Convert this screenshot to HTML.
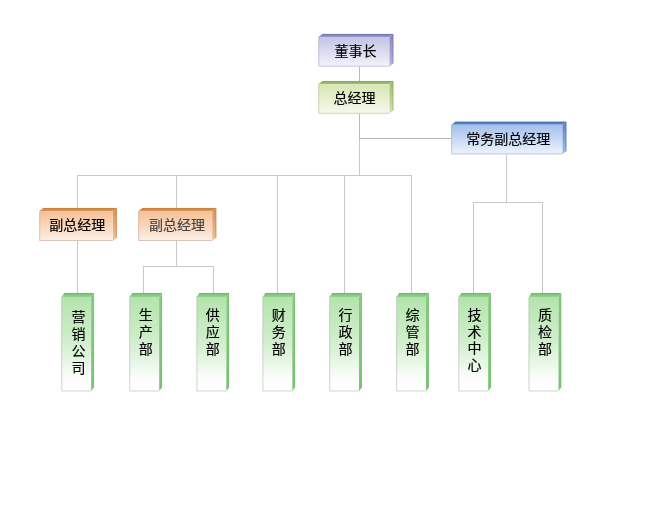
<!DOCTYPE html>
<html lang="zh-CN"><head><meta charset="utf-8"><title>组织结构图</title>
<style>
html,body{margin:0;padding:0;background:#fff;}
body{width:659px;height:508px;overflow:hidden;font-family:"Liberation Sans", "Noto Sans CJK SC", sans-serif;}
svg{display:block;will-change:transform;}
</style></head><body>
<svg width="659" height="508" viewBox="0 0 659 508" font-family='"Liberation Sans", "Noto Sans CJK SC", sans-serif'><defs><linearGradient id="g_pur" x1="0" y1="0" x2="0" y2="1"><stop offset="0" stop-color="#c3c3e6"/><stop offset="1" stop-color="#f3f3fb"/></linearGradient><linearGradient id="s_pur" x1="0" y1="0" x2="0" y2="1"><stop offset="0" stop-color="#8686bc"/><stop offset="1" stop-color="#b6b6da"/></linearGradient><linearGradient id="t_pur" x1="0" y1="0" x2="0" y2="1"><stop offset="0" stop-color="#7676ae"/><stop offset="1" stop-color="#9a9acb"/></linearGradient><linearGradient id="g_yel" x1="0" y1="0" x2="0" y2="1"><stop offset="0" stop-color="#d7e6b1"/><stop offset="1" stop-color="#f6f9ee"/></linearGradient><linearGradient id="s_yel" x1="0" y1="0" x2="0" y2="1"><stop offset="0" stop-color="#9db86e"/><stop offset="1" stop-color="#d2e0b6"/></linearGradient><linearGradient id="t_yel" x1="0" y1="0" x2="0" y2="1"><stop offset="0" stop-color="#88aa5c"/><stop offset="1" stop-color="#a5be76"/></linearGradient><linearGradient id="g_blu" x1="0" y1="0" x2="0" y2="1"><stop offset="0" stop-color="#a4c0eb"/><stop offset="1" stop-color="#edf3fd"/></linearGradient><linearGradient id="s_blu" x1="0" y1="0" x2="0" y2="1"><stop offset="0" stop-color="#5d82c6"/><stop offset="1" stop-color="#a4bce4"/></linearGradient><linearGradient id="t_blu" x1="0" y1="0" x2="0" y2="1"><stop offset="0" stop-color="#4c72b8"/><stop offset="1" stop-color="#6088ce"/></linearGradient><linearGradient id="g_org" x1="0" y1="0" x2="0" y2="1"><stop offset="0" stop-color="#f4bf93"/><stop offset="1" stop-color="#fdefe6"/></linearGradient><linearGradient id="s_org" x1="0" y1="0" x2="0" y2="1"><stop offset="0" stop-color="#d49252"/><stop offset="1" stop-color="#ecc09a"/></linearGradient><linearGradient id="t_org" x1="0" y1="0" x2="0" y2="1"><stop offset="0" stop-color="#c88040"/><stop offset="1" stop-color="#dd9a5a"/></linearGradient><linearGradient id="g_grn" x1="0" y1="0" x2="0" y2="1"><stop offset="0" stop-color="#b3e4ac"/><stop offset="0.5" stop-color="#d3efcf"/><stop offset="0.86" stop-color="#fbfdfb"/><stop offset="1" stop-color="#ffffff"/></linearGradient><linearGradient id="s_grn" x1="0" y1="0" x2="0" y2="1"><stop offset="0" stop-color="#84cb7e"/><stop offset="1" stop-color="#78c472"/></linearGradient><linearGradient id="t_grn" x1="0" y1="0" x2="0" y2="1"><stop offset="0" stop-color="#74b96e"/><stop offset="1" stop-color="#97d490"/></linearGradient></defs>
<line x1="359.5" y1="66.5" x2="359.5" y2="84" stroke="#b8b8b8" stroke-width="1"/>
<line x1="359.5" y1="139" x2="359.5" y2="176" stroke="#c8c8c8" stroke-width="1"/>
<line x1="359.5" y1="113.5" x2="359.5" y2="139" stroke="#b8b8b8" stroke-width="1"/>
<line x1="359" y1="138.5" x2="451.3" y2="138.5" stroke="#b8b8b8" stroke-width="1"/>
<line x1="77" y1="175.5" x2="412" y2="175.5" stroke="#c8c8c8" stroke-width="1"/>
<line x1="77.5" y1="175" x2="77.5" y2="208.2" stroke="#c8c8c8" stroke-width="1"/>
<line x1="176.5" y1="175" x2="176.5" y2="208.2" stroke="#c8c8c8" stroke-width="1"/>
<line x1="277.5" y1="175" x2="277.5" y2="293.2" stroke="#c8c8c8" stroke-width="1"/>
<line x1="344.5" y1="175" x2="344.5" y2="293.2" stroke="#c8c8c8" stroke-width="1"/>
<line x1="411.5" y1="175" x2="411.5" y2="293.2" stroke="#c8c8c8" stroke-width="1"/>
<line x1="77.5" y1="240.5" x2="77.5" y2="293.2" stroke="#c8c8c8" stroke-width="1"/>
<line x1="176.5" y1="240.5" x2="176.5" y2="267" stroke="#c8c8c8" stroke-width="1"/>
<line x1="143" y1="266.5" x2="214" y2="266.5" stroke="#c8c8c8" stroke-width="1"/>
<line x1="143.5" y1="266" x2="143.5" y2="293.2" stroke="#c8c8c8" stroke-width="1"/>
<line x1="213.5" y1="266" x2="213.5" y2="293.2" stroke="#c8c8c8" stroke-width="1"/>
<line x1="506.5" y1="154.3" x2="506.5" y2="203" stroke="#c8c8c8" stroke-width="1"/>
<line x1="473" y1="202.5" x2="543" y2="202.5" stroke="#c8c8c8" stroke-width="1"/>
<line x1="473.5" y1="202" x2="473.5" y2="293.2" stroke="#c8c8c8" stroke-width="1"/>
<line x1="542.5" y1="202" x2="542.5" y2="293.2" stroke="#c8c8c8" stroke-width="1"/>
<polygon points="318.4,37.0 322.4,34.0 393.29999999999995,34.0 389.29999999999995,37.0" fill="url(#t_pur)"/>
<polygon points="389.29999999999995,37.0 393.29999999999995,34.0 393.29999999999995,63.5 389.29999999999995,66.5" fill="url(#s_pur)"/>
<polyline points="322.4,34.3 392.99999999999994,34.3 392.99999999999994,63.5" fill="none" stroke="#7676ae" stroke-width="0.6"/>
<rect x="318.4" y="37.0" width="70.9" height="29.5" fill="url(#g_pur)"/>
<polyline points="318.7,37.0 318.7,66.2 389.29999999999995,66.2" fill="none" stroke="#b8b8c8" stroke-width="0.7"/>
<text x="355.5" y="56" text-anchor="middle" font-size="14" fill="#000" stroke="#000" stroke-width="0.15">董事长</text>
<polygon points="318.4,84.1 322.4,81.1 393.29999999999995,81.1 389.29999999999995,84.1" fill="url(#t_yel)"/>
<polygon points="389.29999999999995,84.1 393.29999999999995,81.1 393.29999999999995,110.6 389.29999999999995,113.6" fill="url(#s_yel)"/>
<polyline points="322.4,81.39999999999999 392.99999999999994,81.39999999999999 392.99999999999994,110.6" fill="none" stroke="#88aa5c" stroke-width="0.6"/>
<rect x="318.4" y="84.1" width="70.9" height="29.5" fill="url(#g_yel)"/>
<polyline points="318.7,84.1 318.7,113.3 389.29999999999995,113.3" fill="none" stroke="#bcc4b0" stroke-width="0.7"/>
<text x="354.4" y="103" text-anchor="middle" font-size="14" fill="#000" stroke="#000" stroke-width="0.15">总经理</text>
<polygon points="451.3,124.8 455.3,121.8 566.3,121.8 562.3,124.8" fill="url(#t_blu)"/>
<polygon points="562.3,124.8 566.3,121.8 566.3,151.2 562.3,154.2" fill="url(#s_blu)"/>
<polyline points="455.3,122.1 566.0,122.1 566.0,151.2" fill="none" stroke="#4c72b8" stroke-width="0.6"/>
<rect x="451.3" y="124.8" width="111.0" height="29.4" fill="url(#g_blu)"/>
<polyline points="451.6,124.8 451.6,153.89999999999998 562.3,153.89999999999998" fill="none" stroke="#a8b4c8" stroke-width="0.7"/>
<text x="508.3" y="144.1" text-anchor="middle" font-size="14" fill="#000" stroke="#000" stroke-width="0.15">常务副总经理</text>
<polygon points="39.4,211.1 43.4,208.1 116.80000000000001,208.1 112.80000000000001,211.1" fill="url(#t_org)"/>
<polygon points="112.80000000000001,211.1 116.80000000000001,208.1 116.80000000000001,237.79999999999998 112.80000000000001,240.79999999999998" fill="url(#s_org)"/>
<polyline points="43.4,208.4 116.50000000000001,208.4 116.50000000000001,237.79999999999998" fill="none" stroke="#c88040" stroke-width="0.6"/>
<rect x="39.4" y="211.1" width="73.4" height="29.7" fill="url(#g_org)"/>
<polyline points="39.699999999999996,211.1 39.699999999999996,240.49999999999997 112.80000000000001,240.49999999999997" fill="none" stroke="#d0b0a0" stroke-width="0.7"/>
<text x="77.2" y="230" text-anchor="middle" font-size="14" fill="#000" stroke="#000" stroke-width="0.15">副总经理</text>
<polygon points="138.4,211.1 142.4,208.1 216.2,208.1 212.2,211.1" fill="url(#t_org)"/>
<polygon points="212.2,211.1 216.2,208.1 216.2,237.79999999999998 212.2,240.79999999999998" fill="url(#s_org)"/>
<polyline points="142.4,208.4 215.89999999999998,208.4 215.89999999999998,237.79999999999998" fill="none" stroke="#c88040" stroke-width="0.6"/>
<rect x="138.4" y="211.1" width="73.8" height="29.7" fill="url(#g_org)"/>
<polyline points="138.70000000000002,211.1 138.70000000000002,240.49999999999997 212.2,240.49999999999997" fill="none" stroke="#d0b0a0" stroke-width="0.7"/>
<text x="177.0" y="230" text-anchor="middle" font-size="14" fill="#444" stroke="#444" stroke-width="0.15">副总经理</text>
<polygon points="61.5,297.0 64.3,293.1 93.89999999999999,293.1 91.1,297.0" fill="url(#t_grn)"/>
<polygon points="91.1,297.0 93.89999999999999,293.1 93.89999999999999,387.40000000000003 91.1,391.3" fill="url(#s_grn)"/>
<polyline points="64.3,293.40000000000003 93.6,293.40000000000003 93.6,387.40000000000003" fill="none" stroke="#74b96e" stroke-width="0.6"/>
<rect x="61.5" y="297.0" width="29.6" height="94.3" fill="url(#g_grn)"/>
<polyline points="61.8,297.0 61.8,391.0 91.1,391.0" fill="none" stroke="#bcc2bb" stroke-width="0.7"/>
<text x="78.5 78.5 78.5 78.5" y="322.3 339.1 355.9 372.7" text-anchor="middle" font-size="14" fill="#000" stroke="#000" stroke-width="0.15">营销公司</text>
<polygon points="129.5,297.0 132.3,293.1 161.9,293.1 159.1,297.0" fill="url(#t_grn)"/>
<polygon points="159.1,297.0 161.9,293.1 161.9,387.40000000000003 159.1,391.3" fill="url(#s_grn)"/>
<polyline points="132.3,293.40000000000003 161.6,293.40000000000003 161.6,387.40000000000003" fill="none" stroke="#74b96e" stroke-width="0.6"/>
<rect x="129.5" y="297.0" width="29.6" height="94.3" fill="url(#g_grn)"/>
<polyline points="129.8,297.0 129.8,391.0 159.1,391.0" fill="none" stroke="#bcc2bb" stroke-width="0.7"/>
<text x="145.7 145.7 145.7" y="320 337 354" text-anchor="middle" font-size="14" fill="#000" stroke="#000" stroke-width="0.15">生产部</text>
<polygon points="196.6,297.0 199.4,293.1 229.0,293.1 226.2,297.0" fill="url(#t_grn)"/>
<polygon points="226.2,297.0 229.0,293.1 229.0,387.40000000000003 226.2,391.3" fill="url(#s_grn)"/>
<polyline points="199.4,293.40000000000003 228.7,293.40000000000003 228.7,387.40000000000003" fill="none" stroke="#74b96e" stroke-width="0.6"/>
<rect x="196.6" y="297.0" width="29.6" height="94.3" fill="url(#g_grn)"/>
<polyline points="196.9,297.0 196.9,391.0 226.2,391.0" fill="none" stroke="#bcc2bb" stroke-width="0.7"/>
<text x="212.8 212.8 212.8" y="320 337 354" text-anchor="middle" font-size="14" fill="#000" stroke="#000" stroke-width="0.15">供应部</text>
<polygon points="262.6,297.0 265.40000000000003,293.1 295.00000000000006,293.1 292.20000000000005,297.0" fill="url(#t_grn)"/>
<polygon points="292.20000000000005,297.0 295.00000000000006,293.1 295.00000000000006,387.40000000000003 292.20000000000005,391.3" fill="url(#s_grn)"/>
<polyline points="265.40000000000003,293.40000000000003 294.70000000000005,293.40000000000003 294.70000000000005,387.40000000000003" fill="none" stroke="#74b96e" stroke-width="0.6"/>
<rect x="262.6" y="297.0" width="29.6" height="94.3" fill="url(#g_grn)"/>
<polyline points="262.90000000000003,297.0 262.90000000000003,391.0 292.20000000000005,391.0" fill="none" stroke="#bcc2bb" stroke-width="0.7"/>
<text x="278.8 278.8 278.8" y="320 337 354" text-anchor="middle" font-size="14" fill="#000" stroke="#000" stroke-width="0.15">财务部</text>
<polygon points="329.4,297.0 332.2,293.1 361.8,293.1 359.0,297.0" fill="url(#t_grn)"/>
<polygon points="359.0,297.0 361.8,293.1 361.8,387.40000000000003 359.0,391.3" fill="url(#s_grn)"/>
<polyline points="332.2,293.40000000000003 361.5,293.40000000000003 361.5,387.40000000000003" fill="none" stroke="#74b96e" stroke-width="0.6"/>
<rect x="329.4" y="297.0" width="29.6" height="94.3" fill="url(#g_grn)"/>
<polyline points="329.7,297.0 329.7,391.0 359.0,391.0" fill="none" stroke="#bcc2bb" stroke-width="0.7"/>
<text x="345.6 345.6 345.6" y="320 337 354" text-anchor="middle" font-size="14" fill="#000" stroke="#000" stroke-width="0.15">行政部</text>
<polygon points="396.4,297.0 399.2,293.1 428.8,293.1 426.0,297.0" fill="url(#t_grn)"/>
<polygon points="426.0,297.0 428.8,293.1 428.8,387.40000000000003 426.0,391.3" fill="url(#s_grn)"/>
<polyline points="399.2,293.40000000000003 428.5,293.40000000000003 428.5,387.40000000000003" fill="none" stroke="#74b96e" stroke-width="0.6"/>
<rect x="396.4" y="297.0" width="29.6" height="94.3" fill="url(#g_grn)"/>
<polyline points="396.7,297.0 396.7,391.0 426.0,391.0" fill="none" stroke="#bcc2bb" stroke-width="0.7"/>
<text x="412.6 412.6 412.6" y="320 337 354" text-anchor="middle" font-size="14" fill="#000" stroke="#000" stroke-width="0.15">综管部</text>
<polygon points="458.5,297.0 461.3,293.1 490.90000000000003,293.1 488.1,297.0" fill="url(#t_grn)"/>
<polygon points="488.1,297.0 490.90000000000003,293.1 490.90000000000003,387.40000000000003 488.1,391.3" fill="url(#s_grn)"/>
<polyline points="461.3,293.40000000000003 490.6,293.40000000000003 490.6,387.40000000000003" fill="none" stroke="#74b96e" stroke-width="0.6"/>
<rect x="458.5" y="297.0" width="29.6" height="94.3" fill="url(#g_grn)"/>
<polyline points="458.8,297.0 458.8,391.0 488.1,391.0" fill="none" stroke="#bcc2bb" stroke-width="0.7"/>
<text x="474.6 474.6 474.6 474.6" y="320.4 336.9 353.4 369.9" text-anchor="middle" font-size="14" fill="#000" stroke="#000" stroke-width="0.15">技术中心</text>
<polygon points="528.7,297.0 531.5,293.1 561.1,293.1 558.3000000000001,297.0" fill="url(#t_grn)"/>
<polygon points="558.3000000000001,297.0 561.1,293.1 561.1,387.40000000000003 558.3000000000001,391.3" fill="url(#s_grn)"/>
<polyline points="531.5,293.40000000000003 560.8000000000001,293.40000000000003 560.8000000000001,387.40000000000003" fill="none" stroke="#74b96e" stroke-width="0.6"/>
<rect x="528.7" y="297.0" width="29.6" height="94.3" fill="url(#g_grn)"/>
<polyline points="529.0,297.0 529.0,391.0 558.3000000000001,391.0" fill="none" stroke="#bcc2bb" stroke-width="0.7"/>
<text x="544.9 544.9 544.9" y="320 337 354" text-anchor="middle" font-size="14" fill="#000" stroke="#000" stroke-width="0.15">质检部</text>
</svg>
</body></html>
